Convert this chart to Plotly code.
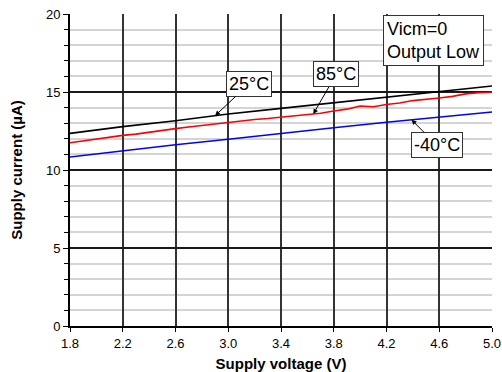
import plotly.graph_objects as go
import numpy as np

# ---- data ----
v_25 = [1.8, 2.2, 2.6, 3.0, 3.4, 3.8, 4.2, 4.6, 5.0]
i_25 = [12.35, 12.78, 13.16, 13.59, 13.95, 14.31, 14.70, 15.02, 15.38]

v_85 = [1.8, 1.9, 2.0, 2.1, 2.2, 2.3, 2.4, 2.5, 2.6, 2.7, 2.8, 2.9, 3.0, 3.1, 3.2, 3.3, 3.4,
        3.5, 3.6, 3.7, 3.8, 3.9, 4.0, 4.1, 4.2, 4.3, 4.4, 4.5, 4.6, 4.7, 4.8, 4.9, 5.0]
i_85 = [11.75, 11.87, 11.96, 12.08, 12.22, 12.30, 12.43, 12.52, 12.65, 12.76, 12.86, 12.94,
        13.08, 13.14, 13.24, 13.30, 13.38, 13.47, 13.55, 13.64, 13.78, 13.90, 14.10, 14.05,
        14.20, 14.30, 14.45, 14.52, 14.62, 14.72, 14.88, 14.95, 14.98]

v_m40 = [1.8, 2.2, 2.6, 3.0, 3.4, 3.8, 4.2, 4.6, 5.0]
i_m40 = [10.83, 11.24, 11.62, 11.97, 12.35, 12.71, 13.06, 13.40, 13.72]

x_ticks = [1.8, 2.2, 2.6, 3.0, 3.4, 3.8, 4.2, 4.6, 5.0]
y_ticks = [0, 5, 10, 15, 20]
y_minor_ticks = [v for v in range(0, 21) if v % 5 != 0]
y_range = [0, 20]

labels = ["25°C", "85°C", "-40°C"]
# arrow head voltage and label-box centre (voltage, current) for each label
arrow_v = [2.9, 3.645, 4.39]
box_pos = [(3.157, 15.51), (3.819, 16.15), (4.582, 11.58)]

FONT = "Liberation Sans, Arial, sans-serif"

fig = go.Figure()
fig.add_trace(go.Scatter(x=v_25, y=i_25, mode="lines", line=dict(color="black", width=1.6)))
fig.add_trace(go.Scatter(x=v_85, y=i_85, mode="lines", line=dict(color="#ff0000", width=1.6)))
fig.add_trace(go.Scatter(x=v_m40, y=i_m40, mode="lines", line=dict(color="#0000ff", width=1.6)))

series = [(v_25, i_25), (v_85, i_85), (v_m40, i_m40)]
for lab, av, (bx, by), (vs, cs) in zip(labels, arrow_v, box_pos, series):
    ay_val = float(np.interp(av, vs, cs))
    fig.add_annotation(
        x=av, y=ay_val, ax=bx, ay=by, axref="x", ayref="y", xref="x", yref="y",
        text=lab, showarrow=True, arrowhead=2, arrowsize=1, arrowwidth=1,
        arrowcolor="black", font=dict(size=18, color="black", family=FONT),
        bgcolor="white", bordercolor="#333", borderwidth=1, borderpad=2,
    )

fig.add_annotation(
    x=4.556, y=18.27, xref="x", yref="y", showarrow=False,
    text="Vicm=0<br>Output Low", align="left",
    font=dict(size=18, color="black", family=FONT),
    bgcolor="white", bordercolor="#333", borderwidth=1, borderpad=3,
)

fig.update_layout(
    width=502, height=372,
    margin=dict(l=70, r=10, t=14, b=46, autoexpand=False),
    plot_bgcolor="white", paper_bgcolor="white",
    showlegend=False,
    font=dict(family=FONT, size=13, color="black"),
)
fig.update_xaxes(
    range=[1.8, 5.0], tickvals=x_ticks, ticktext=[f"{v:.1f}" for v in x_ticks],
    automargin=False,
    showline=True, linecolor="black", linewidth=2,
    ticks="outside", ticklen=4, tickcolor="black",
    showgrid=True, gridcolor="#333", gridwidth=1.8, zeroline=False,
    title=dict(text="<b>Supply voltage (V)</b>", font=dict(size=15), standoff=10),
)
fig.update_yaxes(
    range=y_range, tickmode="array", tickvals=y_ticks, automargin=False,
    showline=True, linecolor="black", linewidth=2,
    ticks="outside", ticklen=5, tickcolor="black",
    showgrid=True, gridcolor="#1a1a1a", gridwidth=1.8, zeroline=False,
    minor=dict(tickmode="array", tickvals=y_minor_ticks, showgrid=True,
               gridcolor="#d4d4d4", gridwidth=1.8,
               ticks="outside", ticklen=4, tickcolor="black"),
    title=dict(text="<b>Supply current (µA)</b>", font=dict(size=15), standoff=20),
)

fig.write_html("out.html")
